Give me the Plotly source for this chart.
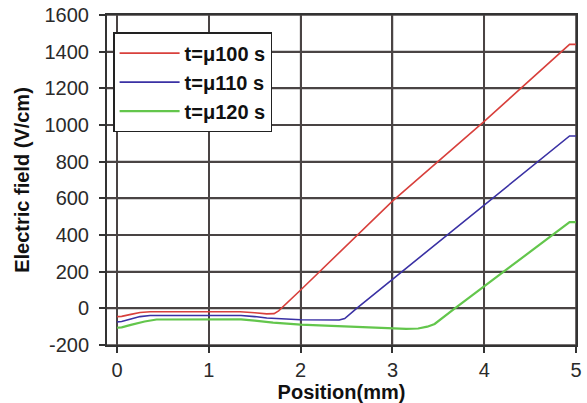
import plotly.graph_objects as go

# Data
x_red = [0, 0.05, 0.15, 0.25, 0.36, 1.0, 1.34, 1.5, 1.63, 1.71, 1.76, 2.0, 3.0, 4.0, 4.85, 4.93, 5.0]
y_red = [-45, -44, -33, -23, -19, -19, -19, -24, -30, -29, -14, 100, 585, 1020, 1405, 1440, 1440]

x_blue = [0, 0.05, 0.15, 0.25, 0.36, 1.0, 1.35, 1.5, 1.63, 2.0, 2.3, 2.42, 2.48, 2.54, 2.61, 4.93, 5.0]
y_blue = [-74, -72, -58, -45, -39, -39, -39, -45, -53, -62, -66, -64, -56, -30, 0, 940, 940]

x_green = [0, 0.05, 0.15, 0.3, 0.43, 1.0, 1.35, 1.5, 1.7, 2.0, 2.5, 3.0, 3.15, 3.28, 3.38, 3.46, 3.55, 3.68, 4.93, 5.0]
y_green = [-106, -104, -90, -72, -61, -60, -60, -67, -78, -89, -100, -110, -112, -110, -100, -85, -52, 0, 470, 470]

names = ["t=μ100 s", "t=μ110 s", "t=μ120 s"]
colors = ["#d8403c", "#3a31a4", "#63c64c"]
widths = [1.6, 1.6, 2.2]

x_ticks = [0, 1, 2, 3, 4, 5]
x_ticktext = ["0", "1", "2", "3", "4", "5"]
y_ticks = [-200, 0, 200, 400, 600, 800, 1000, 1200, 1400, 1600]
y_ticktext = ["-200", "0", "200", "400", "600", "800", "1000", "1200", "1400", "1600"]

x_range = [-0.11, 5.0]
y_range = [-200, 1600]

font_family = "Liberation Sans, Arial, sans-serif"
grid_color = "#4a4444"

fig = go.Figure()

# grid lines at the tick positions, drawn first so they sit under the curves
gx, gy = [], []
for xv in x_ticks:
    gx += [xv, xv, None]
    gy += [y_range[0], y_range[1], None]
for yv in y_ticks:
    gx += [x_range[0], x_range[1], None]
    gy += [yv, yv, None]
fig.add_trace(go.Scatter(x=gx, y=gy, mode="lines", showlegend=False, hoverinfo="skip",
                         line=dict(color=grid_color, width=1.6), cliponaxis=False))

for xs, ys, n, c, w in zip([x_red, x_blue, x_green], [y_red, y_blue, y_green], names, colors, widths):
    fig.add_trace(go.Scatter(x=xs, y=ys, mode="lines", name=n,
                             line=dict(color=c, width=w)))

fig.update_layout(
    template="none",
    width=587, height=403,
    margin=dict(l=107, r=11, t=15, b=58),
    paper_bgcolor="white", plot_bgcolor="white",
    font=dict(family=font_family, size=20, color="#2a2a2a"),
    legend=dict(
        x=0.013, y=0.948, xanchor="left", yanchor="top",
        bgcolor="white", bordercolor="#222222", borderwidth=1.5,
        font=dict(family=font_family, size=20, color="#111111", weight="bold"),
        itemwidth=60, tracegroupgap=0,
    ),
)

axis_common = dict(
    showgrid=True, gridcolor=grid_color, gridwidth=2,
    showline=True, linecolor="#333333", linewidth=2, mirror=True,
    ticks="outside", ticklen=6, tickcolor="#333333", tickwidth=1.5,
    zeroline=False, tickmode="array",
    tickfont=dict(family=font_family, size=20, color="#2a2a2a"),
)

fig.update_xaxes(
    range=x_range, tickvals=x_ticks, ticktext=x_ticktext,
    title=dict(text="<b>Position(mm)</b>", font=dict(family=font_family, size=20, color="#111111"), standoff=2),
    **axis_common,
)
fig.update_yaxes(
    range=y_range, tickvals=y_ticks, ticktext=y_ticktext,
    ticklabelstandoff=6,
    title=dict(text="<b>Electric field (V/cm)</b>", font=dict(family=font_family, size=20, color="#111111"), standoff=10),
    **axis_common,
)

fig.write_html("out.html")
